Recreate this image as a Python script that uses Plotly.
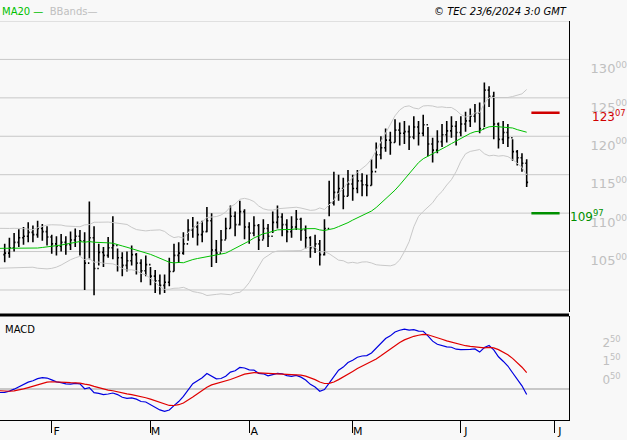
import pandas as pd
import plotly.graph_objects as go

# warm-up closes before the visible window (needed for MA20 / MACD)
warmup_close = [103.5, 104.2, 104.8, 105.5, 106.1, 106.8, 107.4, 107.9, 108.3, 108.0,
                107.2, 106.5, 105.8, 105.0, 104.3, 103.6, 103.0, 102.8, 103.2, 103.9,
                104.6, 105.3, 106.0, 106.7, 107.3, 107.8, 107.5, 106.9, 106.2, 105.6,
                104.9, 104.2, 103.8, 103.5, 103.9, 104.4, 104.8, 105.3, 105.0, 104.6]

close = [104.8, 105.5, 106.2, 106.8, 107.0, 107.5, 107.2, 108.0, 107.6, 106.9,
         106.0, 105.7, 106.2, 105.9, 106.5, 107.0, 106.4, 103.5, 106.8, 102.8, 104.9, 104.5, 105.5, 105.8, 104.2, 103.2, 103.8, 104.6, 103.5, 102.5, 103.3,
         101.8, 101.2, 100.6, 101.0, 102.4, 104.5, 104.8, 106.0, 107.8, 108.2, 107.2, 107.6, 109.0, 105.2, 104.8, 106.5, 108.0, 109.6, 108.5, 110.2, 108.2,
         107.4, 108.4, 106.5, 108.0, 107.0, 108.8, 109.5, 108.5, 107.6, 108.2, 109.2, 107.8, 106.8, 105.5, 106.0, 104.6, 108.0, 111.3, 112.7, 113.2, 112.2, 113.8,
         113.2, 114.2, 113.7, 113.6, 115.4, 117.6, 118.5, 119.5, 119.2, 120.8, 120.4, 120.6, 119.9, 121.2, 120.4, 121.5, 119.0, 118.2, 119.3, 120.2, 120.7, 121.3, 120.5,
         121.6, 122.0, 122.6, 123.0, 121.0, 126.0, 125.2, 121.6, 119.6, 120.5, 119.8, 118.0, 117.2, 116.5, 114.0]
high = [106.0, 106.8, 107.4, 107.9, 108.2, 108.8, 108.4, 109.0, 108.6, 108.3,
        107.2, 107.0, 107.3, 107.0, 107.6, 108.0, 107.8, 107.5, 111.5, 108.3, 106.0, 105.6, 106.9, 109.6, 105.4, 104.9, 105.0, 105.8, 104.8, 104.0, 104.5,
        103.0, 102.6, 102.0, 102.0, 104.2, 106.0, 106.2, 107.5, 109.2, 109.5, 108.9, 109.0, 110.8, 110.0, 106.5, 107.8, 109.4, 111.0, 110.2, 111.6, 110.5,
        108.8, 109.6, 108.6, 109.2, 108.6, 110.2, 111.0, 110.0, 109.2, 109.6, 110.4, 109.4, 108.4, 107.0, 107.2, 106.5, 109.2, 114.2, 115.4, 115.0, 114.6, 115.6,
        115.0, 115.6, 115.2, 115.0, 117.0, 119.2, 120.0, 121.0, 120.6, 122.2, 121.8, 122.0, 121.4, 122.6, 122.0, 122.8, 121.2, 119.8, 120.8, 121.6, 122.0, 122.6, 122.0,
        122.6, 123.2, 123.6, 124.2, 124.4, 127.0, 126.5, 125.8, 121.8, 122.0, 121.6, 119.6, 118.2, 117.8, 117.0]
low = [103.6, 104.2, 105.0, 105.6, 105.9, 106.2, 106.2, 106.8, 106.4, 105.8,
       104.7, 104.5, 105.0, 104.6, 105.2, 105.6, 104.5, 100.0, 104.0, 99.3, 103.2, 103.0, 104.2, 104.0, 102.4, 101.8, 102.4, 103.2, 102.0, 101.0, 101.8,
       100.6, 99.6, 99.4, 99.6, 100.5, 102.4, 103.5, 104.6, 106.4, 106.8, 105.8, 106.2, 107.5, 103.0, 103.5, 105.0, 106.6, 108.0, 107.0, 108.4, 106.6,
       106.0, 107.0, 105.2, 106.6, 105.6, 107.4, 108.0, 107.0, 106.2, 106.8, 107.8, 106.4, 105.4, 104.2, 104.8, 103.2, 104.5, 109.6, 111.0, 111.6, 110.5, 112.2,
       111.6, 112.6, 112.2, 112.2, 113.6, 115.8, 117.0, 118.0, 117.6, 119.2, 118.8, 119.0, 118.2, 119.6, 118.8, 120.0, 117.4, 116.6, 117.8, 118.6, 119.2, 119.8, 118.8,
       120.0, 120.6, 121.2, 121.8, 120.4, 121.2, 123.8, 119.6, 118.4, 119.0, 118.6, 116.8, 116.2, 115.4, 113.4]

resistance = 123.07
support = 109.97
price_ticks = [105, 110, 115, 120, 125, 130]
price_grid = [100, 105, 110, 115, 120, 125, 130, 135]
macd_ticks = [0.5, 1.5, 2.5]
month_ticks = ["2024-02-01", "2024-03-01", "2024-04-01", "2024-05-01", "2024-06-03", "2024-07-01"]
month_labels = ["F", "M", "A", "M", "J", "J"]

all_close = pd.Series(warmup_close + close)
all_dates = pd.bdate_range(end="2024-06-21", periods=len(all_close))
dates = all_dates[len(warmup_close):]
opens = all_close.shift(1).iloc[len(warmup_close):].tolist()

ma20 = all_close.rolling(20, min_periods=1).mean()
sd20 = all_close.rolling(20, min_periods=1).std().fillna(0)
bb_up = ma20 + 2 * sd20
bb_dn = ma20 - 2 * sd20
macd = all_close.ewm(span=12, adjust=False).mean() - all_close.ewm(span=26, adjust=False).mean()
signal = macd.ewm(span=9, adjust=False).mean()

fig = go.Figure()
grey = "#c8c8c8"
fig.add_trace(go.Scatter(x=all_dates, y=bb_up, mode="lines", line=dict(color=grey, width=1), yaxis="y"))
fig.add_trace(go.Scatter(x=all_dates, y=bb_dn, mode="lines", line=dict(color=grey, width=1), yaxis="y"))
fig.add_trace(go.Scatter(x=all_dates, y=ma20, mode="lines", line=dict(color="#00c000", width=1), yaxis="y"))
fig.add_trace(go.Ohlc(x=dates, open=opens, high=high, low=low, close=close, tickwidth=0.3,
                      increasing=dict(line=dict(color="black", width=1.6)),
                      decreasing=dict(line=dict(color="black", width=1.6)), yaxis="y"))
fig.add_trace(go.Scatter(x=all_dates, y=macd, mode="lines", line=dict(color="#0000e0", width=1.2), yaxis="y2"))
fig.add_trace(go.Scatter(x=all_dates, y=signal, mode="lines", line=dict(color="#e00000", width=1.2), yaxis="y2"))

# horizontal grid lines of the price panel
for g in price_grid:
    fig.add_shape(type="line", xref="paper", yref="y", x0=0, x1=1, y0=g, y1=g,
                  line=dict(color=grey, width=1), layer="below")

for lvl, col in [(resistance, "#d00000"), (support, "#009000")]:
    fig.add_shape(type="line", xref="x", yref="y", x0="2024-06-24", x1="2024-07-02",
                  y0=lvl, y1=lvl, line=dict(color=col, width=2.5))
fig.add_annotation(x=1.0, xref="paper", y=resistance, yref="y", xanchor="left", showarrow=False,
                   text="%d<sup>%02d</sup>" % (int(resistance), round(resistance % 1 * 100)),
                   font=dict(color="#d00000", size=12), xshift=21, yshift=-3)
fig.add_annotation(x=1.0, xref="paper", y=support, yref="y", xanchor="left", showarrow=False,
                   text="%d<sup>%02d</sup>" % (int(support), round(support % 1 * 100)),
                   font=dict(color="#009000", size=12), xshift=-1, yshift=-3)

# panel separator
fig.add_shape(type="line", xref="paper", yref="paper", x0=0, x1=1, y0=0.263, y1=0.263,
              line=dict(color="black", width=3))

fig.add_annotation(x=0, y=1.005, xref="paper", yref="paper", xanchor="left", yanchor="bottom",
                   showarrow=False, text="<span style='color:#00c000'>MA20 —</span>  <span style='color:#c0c0c0'>BBands—</span>",
                   font=dict(size=10, family="DejaVu Sans"))
fig.add_annotation(x=1.0, y=1.005, xref="paper", yref="paper", xanchor="right", yanchor="bottom",
                   showarrow=False, text="<i>© TEC 23/6/2024 3:0 GMT</i>", font=dict(size=10, color="black"))
fig.add_annotation(x=0.005, y=0.245, xref="paper", yref="paper", xanchor="left", yanchor="top",
                   showarrow=False, text="MACD", font=dict(size=10, color="black"))

fig.update_layout(
    width=627, height=440, margin=dict(l=0, r=58, t=21, b=20, autoexpand=False),
    paper_bgcolor="#f8f8f8", plot_bgcolor="#f8f8f8", showlegend=False,
    font=dict(family="DejaVu Sans", size=11),
    xaxis=dict(anchor="y2", range=["2024-01-17", "2024-07-04"], rangebreaks=[dict(bounds=["sat", "mon"])],
               rangeslider=dict(visible=False), tickvals=month_ticks, ticktext=month_labels,
               ticks="outside", ticklen=12, tickcolor="black", showgrid=False,
               showline=True, linecolor="black", ticklabelshift=5, ticklabelstandoff=-11,
               tickfont=dict(color="black", size=11)),
    yaxis=dict(domain=[0.27, 1], range=[97.1, 135], side="right", tickvals=price_ticks,
               ticktext=["%d<sup>00</sup>" % v for v in price_ticks], tickfont=dict(color="#c0c0c0", size=13),
               showgrid=False, showline=True, linecolor="black", zeroline=False,
               ticklabelposition="outside bottom", ticklabelstandoff=18),
    yaxis2=dict(domain=[0, 0.26], range=[-1.63, 3.9], side="right", tickvals=macd_ticks,
                ticktext=["%d<sup>50</sup>" % int(v) for v in macd_ticks], tickfont=dict(color="#c0c0c0", size=12),
                showgrid=False, zeroline=True, zerolinecolor="#c8c8c8", showline=True, linecolor="black",
                ticklabelstandoff=30),
)

fig.write_html("out.html", post_script="document.body.style.margin='0';",
               config={"displayModeBar": False})
